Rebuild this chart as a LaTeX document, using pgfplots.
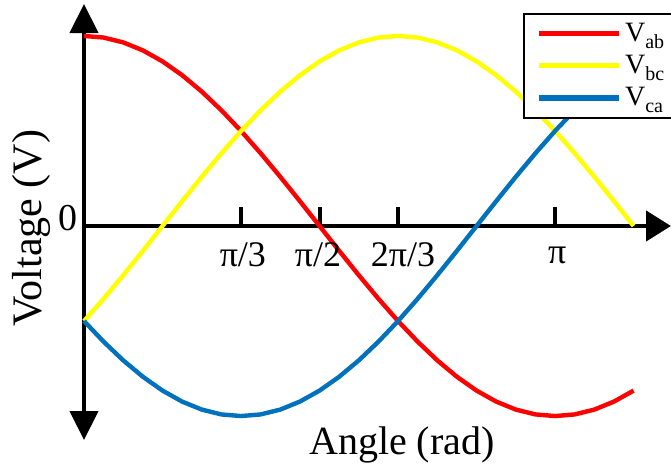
\documentclass[border=0pt]{standalone}
\usepackage{fontspec}
\setmainfont{Liberation Serif}
\usepackage{pgfplots}
\usepackage{pgfplotstable}
\pgfplotsset{compat=1.18}
\usetikzlibrary{arrows.meta}
\definecolor{vab}{RGB}{255,0,0}
\definecolor{vbc}{RGB}{255,255,0}
\definecolor{vca}{RGB}{0,114,189}
\protected\def\PI{\symbol{"03C0}}
\protected\def\Vsub#1{V\raisebox{-0.25em}{\fontsize{10}{10}\selectfont #1}}
\pgfplotstableread{
deg vab vbc vca
0 1 -0.5 -0.5
7.5 0.99144 -0.38268 -0.60876
15 0.96593 -0.25882 -0.70711
22.5 0.92388 -0.13053 -0.79335
30 0.86603 0 -0.86603
37.5 0.79335 0.13053 -0.92388
45 0.70711 0.25882 -0.96593
52.5 0.60876 0.38268 -0.99144
60 0.5 0.5 -1
67.5 0.38268 0.60876 -0.99144
75 0.25882 0.70711 -0.96593
82.5 0.13053 0.79335 -0.92388
90 0 0.86603 -0.86603
97.5 -0.13053 0.92388 -0.79335
105 -0.25882 0.96593 -0.70711
112.5 -0.38268 0.99144 -0.60876
120 -0.5 1 -0.5
127.5 -0.60876 0.99144 -0.38268
135 -0.70711 0.96593 -0.25882
142.5 -0.79335 0.92388 -0.13053
150 -0.86603 0.86603 0
157.5 -0.92388 0.79335 0.13053
165 -0.96593 0.70711 0.25882
172.5 -0.99144 0.60876 0.38268
180 -1 0.5 0.5
187.5 -0.99144 0.38268 0.60876
195 -0.96593 0.25882 0.70711
202.5 -0.92388 0.13053 0.79335
210 -0.86603 0 0.86603
}\volt
\begin{document}
\begin{tikzpicture}
\path[use as bounding box] (-42pt,-14pt) rectangle (293.5pt,220pt);
\begin{axis}[
  at={(0pt,0pt)}, anchor=south west,
  scale only axis, width=293.5pt, height=218pt,
  xmin=0, xmax=224.3, ymin=-1.126, ymax=1.168,
  hide axis, clip=false,
  legend style={at={(axis cs:167.8,1.121)}, anchor=north west, draw=black, line width=0.8pt, fill=white,
    font=\fontsize{14}{16}\selectfont, inner xsep=6pt, inner ysep=2.5pt, row sep=1.5pt},
  legend cell align=left,
  legend image code/.code={\draw[#1, line width=2.6pt] (0pt,0pt) -- (40pt,0pt);},
]
\draw[line width=2.2pt, {Triangle[width=14pt,length=14.5pt]}-{Triangle[width=14pt,length=14.5pt]}] (axis cs:0,-1.126) -- (axis cs:0,1.168);
\draw[line width=2.2pt, -{Triangle[width=15pt,length=12.5pt]}] (axis cs:0,0) -- (axis cs:224.3,0);
\draw[line width=2pt] (axis cs:60,0) -- (axis cs:60,0.1);
\draw[line width=2pt] (axis cs:90,0) -- (axis cs:90,0.1);
\draw[line width=2pt] (axis cs:120,0) -- (axis cs:120,0.1);
\draw[line width=2pt] (axis cs:180,0) -- (axis cs:180,0.1);
\addplot[vab, line width=2.2pt] table[x=deg, y=vab] {\volt};
\addlegendentry{\Vsub{ab}}
\addplot[vbc, line width=2.2pt] table[x=deg, y=vbc] {\volt};
\addlegendentry{\Vsub{bc}}
\addplot[vca, line width=2.2pt] table[x=deg, y=vca] {\volt};
\addlegendentry{\Vsub{ca}}
\node[font=\fontsize{21}{24}\selectfont, rotate=90] at (axis cs:-19.9,-0.01) {Voltage (V)};
\node[font=\fontsize{20}{24}\selectfont] at (axis cs:121.5,-1.15) {Angle (rad)};
\node[font=\fontsize{19}{22}\selectfont] at (axis cs:-6.1,0.042) {0};
\node[font=\fontsize{18}{22}\selectfont] at (axis cs:60.7,-0.153) {\PI/3};
\node[font=\fontsize{18}{22}\selectfont] at (axis cs:89.4,-0.153) {\PI/2};
\node[font=\fontsize{18}{22}\selectfont] at (axis cs:121.9,-0.153) {2\PI/3};
\node[font=\fontsize{18}{22}\selectfont] at (axis cs:180.8,-0.153) {\PI};
\end{axis}
\end{tikzpicture}
\end{document}
